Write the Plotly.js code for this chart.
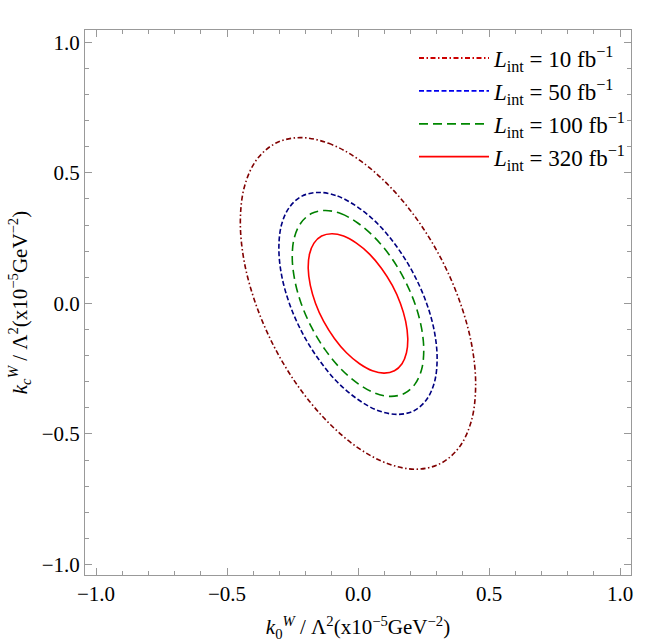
<!DOCTYPE html>
<html>
<head>
<meta charset="utf-8">
<script src="https://cdn.plot.ly/plotly-3.0.1.min.js"></script>
<style>html,body{margin:0;padding:0;background:#fff;}#plot{width:664px;height:644px;}</style>
</head>
<body>
<div id="plot"></div>
<script>
// Contour points (k0^W, kc^W)
const names = ['<i>L</i><sub>int</sub> = 10 fb<sup>\u22121</sup>',
               '<i>L</i><sub>int</sub> = 50 fb<sup>\u22121</sup>',
               '<i>L</i><sub>int</sub> = 100 fb<sup>\u22121</sup>',
               '<i>L</i><sub>int</sub> = 320 fb<sup>\u22121</sup>'];

const x10  = [-0.221,-0.112,0.004,0.120,0.228,0.321,0.391,0.435,0.449,0.433,0.387,0.315,0.221,0.112,-0.004,-0.120,-0.228,-0.321,-0.391,-0.435,-0.449,-0.433,-0.387,-0.315,-0.221];
const y10  = [0.635,0.613,0.550,0.449,0.318,0.164,0.000,-0.164,-0.318,-0.449,-0.550,-0.613,-0.635,-0.613,-0.550,-0.449,-0.318,-0.164,0.000,0.164,0.318,0.449,0.550,0.613,0.635];

const x50  = [-0.151,-0.078,0.000,0.079,0.151,0.214,0.262,0.292,0.302,0.292,0.262,0.214,0.151,0.078,0.000,-0.079,-0.151,-0.214,-0.262,-0.292,-0.302,-0.292,-0.262,-0.214,-0.151];
const y50  = [0.425,0.411,0.368,0.301,0.213,0.110,0.000,-0.110,-0.213,-0.301,-0.368,-0.411,-0.425,-0.411,-0.368,-0.301,-0.213,-0.110,0.000,0.110,0.213,0.301,0.368,0.411,0.425];

const x100 = [-0.126,-0.066,-0.001,0.064,0.125,0.177,0.217,0.242,0.251,0.243,0.218,0.178,0.126,0.066,0.001,-0.064,-0.125,-0.177,-0.217,-0.242,-0.251,-0.243,-0.218,-0.178,-0.126];
const y100 = [0.356,0.344,0.308,0.252,0.178,0.092,0.000,-0.092,-0.178,-0.252,-0.308,-0.344,-0.356,-0.344,-0.308,-0.252,-0.178,-0.092,0.000,0.092,0.178,0.252,0.308,0.344,0.356];

const x320 = [-0.100,-0.055,-0.006,0.044,0.090,0.131,0.162,0.182,0.190,0.185,0.168,0.139,0.100,0.055,0.006,-0.044,-0.090,-0.131,-0.162,-0.182,-0.190,-0.185,-0.168,-0.139,-0.100];
const y320 = [0.267,0.258,0.231,0.189,0.134,0.069,0.000,-0.069,-0.134,-0.189,-0.231,-0.258,-0.267,-0.258,-0.231,-0.189,-0.134,-0.069,0.000,0.069,0.134,0.189,0.231,0.258,0.267];

const colors = ['#800000','#000080','#008000','#ff0000'];
const legendColors = ['#cc0000','#0000ee','#008800','#ff0000'];
const dashes = ['5px,2.5px,1.5px,2.5px','5px,2.5px','9px,5px','solid'];
const xs = [x10,x50,x100,x320];
const ys = [y10,y50,y100,y320];

const traces = xs.map((x,i)=>({
  x: x, y: ys[i], type:'scatter', mode:'lines', name:names[i], showlegend:false,
  line:{color:colors[i], width:1.6, dash:dashes[i], shape:'spline', smoothing:1}
}));
// legend samples (the reference legend uses brighter colours)
const legendTraces = names.map((n,i)=>({
  x:[null], y:[null], type:'scatter', mode:'lines', name:n, legendgroup:'g'+i,
  line:{color:legendColors[i], width:1.8, dash:dashes[i]}
}));

const axisCommon = {
  showline:true, mirror:'ticks', linecolor:'#999', linewidth:1,
  ticks:'inside', ticklen:7, tickcolor:'#999', tickwidth:1,
  dtick:0.5, tick0:0, tickformat:'.1f',
  minor:{dtick:0.1, ticks:'inside', ticklen:4, tickcolor:'#999', showgrid:false},
  showgrid:false, zeroline:false,
  tickfont:{family:'Liberation Serif', size:21, color:'#000'}
};

const layout = {
  width:664, height:644,
  margin:{l:85, r:33, t:30, b:69},
  paper_bgcolor:'#fff', plot_bgcolor:'#fff',
  font:{family:'Liberation Serif', color:'#000'},
  showlegend:true,
  legend:{x:1.0, xanchor:'right', y:0.988, yanchor:'top', bgcolor:'rgba(0,0,0,0)',
          font:{family:'Liberation Serif', size:23, color:'#000'}, itemwidth:70, tracegroupgap:0},
  xaxis: Object.assign({}, axisCommon, {range:[-1.042,1.042],
    title:{text:'<i>k</i><sub>0</sub><sup><i>W</i></sup> / \u039b<sup>2</sup>(x10<sup>\u22125</sup>GeV<sup>\u22122</sup>)',
           font:{family:'Liberation Serif', size:21, color:'#000'}, standoff:14}}),
  yaxis: Object.assign({}, axisCommon, {range:[-1.04,1.047],
    title:{text:'<i>k</i><sub><i>c</i></sub><sup><i>W</i></sup> / \u039b<sup>2</sup>(x10<sup>\u22125</sup>GeV<sup>\u22122</sup>)',
           font:{family:'Liberation Serif', size:21, color:'#000'}, standoff:8}})
};

Plotly.newPlot('plot', traces.concat(legendTraces), layout, {staticPlot:true, displayModeBar:false});
</script>
</body>
</html>
